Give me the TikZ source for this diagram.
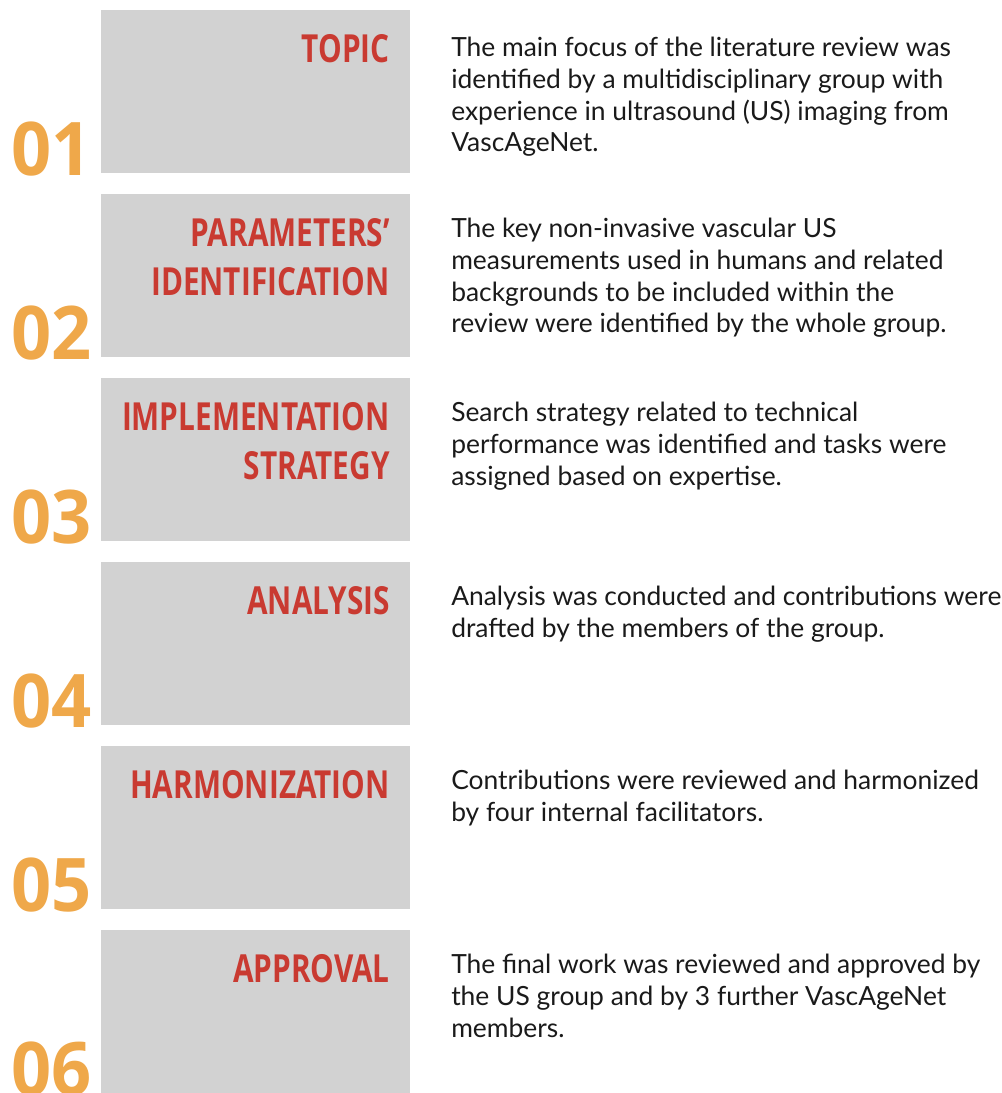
\documentclass[tikz,border=0pt]{standalone}
\usepackage{fontspec}
\usepackage{tikz}
\newfontfamily\descfamily{Lato}
\newfontfamily\titlefamily[FakeStretch=0.77]{Open Sans}
\newfontfamily\numfamily[FakeStretch=0.95]{Open Sans}
\definecolor{boxgrey}{HTML}{D2D2D2}
\definecolor{titlered}{HTML}{C93A31}
\definecolor{numorange}{HTML}{EFA84A}
\definecolor{desctext}{HTML}{1A1A1A}

\begin{document}
\begin{tikzpicture}[x=0.75pt,y=0.75pt,yscale=-1,xscale=1,
  stepbox/.style={fill=boxgrey,inner sep=0pt,minimum width=231.75pt,minimum height=122.25pt},
  steptitle/.style={anchor=north east,inner sep=0pt,align=right,text=titlered,
    font=\titlefamily\bfseries\fontsize{29}{36.75}\selectfont},
  stepnum/.style={anchor=base west,inner sep=0pt,text=numorange,
    font=\numfamily\bfseries\fontsize{55.5}{60}\selectfont},
  stepdesc/.style={anchor=north west,inner sep=0pt,align=left,text=desctext,
    font=\descfamily\fontsize{19.8}{23.8}\selectfont}]
\useasboundingbox (0,0) rectangle (1001,1093);

%Shape: Rectangle [step 1]
\node[stepbox] (box1) at (255.5,91.5) {};
%Shape: Rectangle [step 2]
\node[stepbox] (box2) at (255.5,275.5) {};
%Shape: Rectangle [step 3]
\node[stepbox] (box3) at (255.5,459.5) {};
%Shape: Rectangle [step 4]
\node[stepbox] (box4) at (255.5,643.5) {};
%Shape: Rectangle [step 5]
\node[stepbox] (box5) at (255.5,827.5) {};
%Shape: Rectangle [step 6]
\node[stepbox] (box6) at (255.5,1011.5) {};

% Text Node
\node[steptitle] (title1) at (390,34) {TOPIC};
% Text Node
\node[steptitle] (title2) at (390,218) {PARAMETERS’\\IDENTIFICATION};
% Text Node
\node[steptitle] (title3) at (390,402) {IMPLEMENTATION\\STRATEGY};
% Text Node
\node[steptitle] (title4) at (390,586) {ANALYSIS};
% Text Node
\node[steptitle] (title5) at (390,770) {HARMONIZATION};
% Text Node
\node[steptitle] (title6) at (390,954) {APPROVAL};

% Text Node
\node[stepnum] (num1) at (11,175) {01};
% Text Node
\node[stepnum] (num2) at (11,359) {02};
% Text Node
\node[stepnum] (num3) at (11,543) {03};
% Text Node
\node[stepnum] (num4) at (11,727) {04};
% Text Node
\node[stepnum] (num5) at (11,911) {05};
% Text Node
\node[stepnum] (num6) at (11,1095) {06};

% Text Node
\node[stepdesc] (desc1) at (451,37) {The main focus of the literature review was\\identified by a multidisciplinary group with\\experience in ultrasound (US) imaging from\\VascAgeNet.};
% Text Node
\node[stepdesc] (desc2) at (451,218) {The key non-invasive vascular US\\measurements used in humans and related\\backgrounds to be included within the\\review were identified by the whole group.};
% Text Node
\node[stepdesc] (desc3) at (451,402) {Search strategy related to technical\\performance was identified and tasks were\\assigned based on expertise.};
% Text Node
\node[stepdesc] (desc4) at (451,586) {Analysis was conducted and contributions were\\drafted by the members of the group.};
% Text Node
\node[stepdesc] (desc5) at (451,770) {Contributions were reviewed and harmonized\\by four internal facilitators.};
% Text Node
\node[stepdesc] (desc6) at (451,954) {The final work was reviewed and approved by\\the US group and by 3 further VascAgeNet\\members.};

\end{tikzpicture}
\end{document}
